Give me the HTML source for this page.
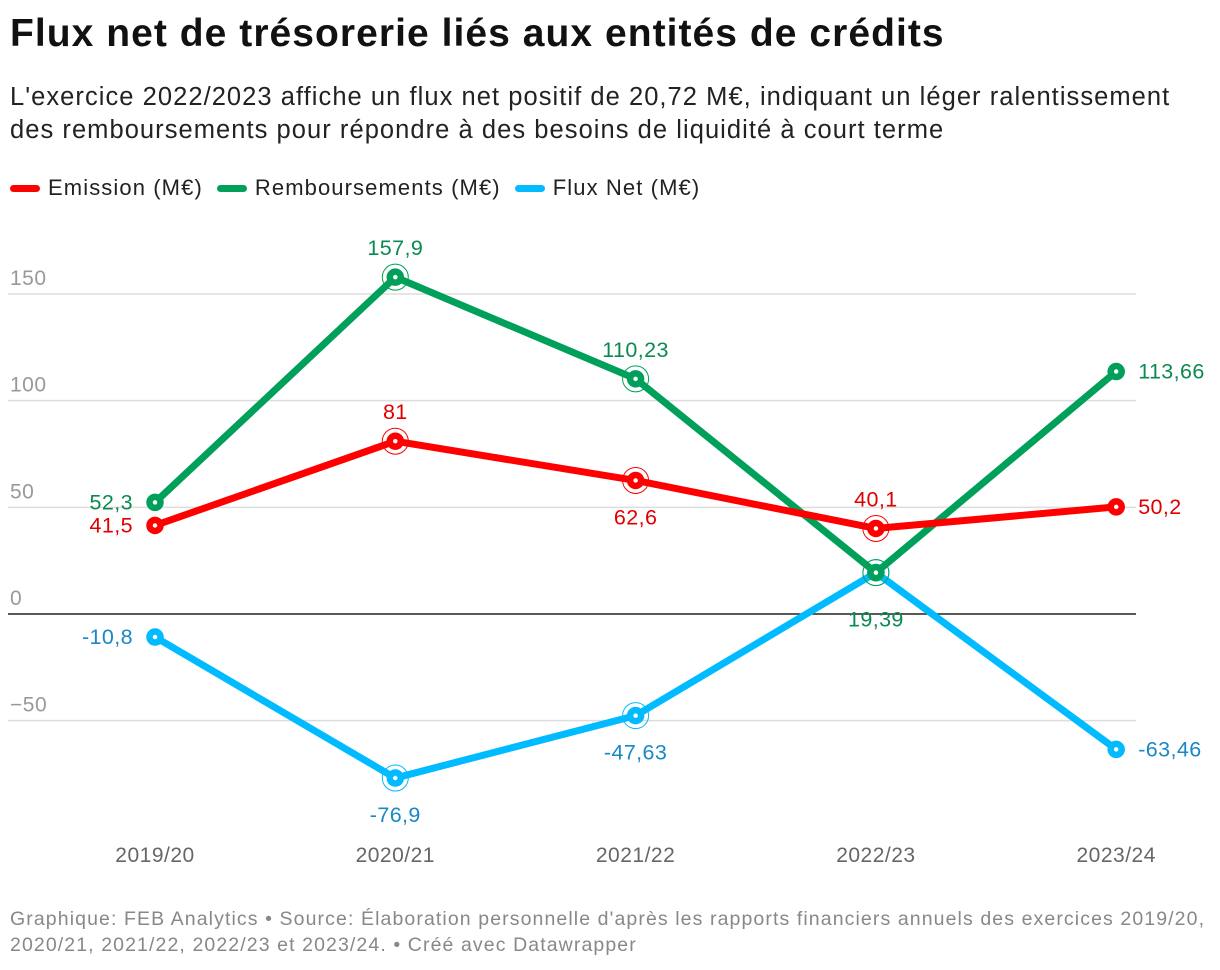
<!DOCTYPE html>
<html><head><meta charset="utf-8"><style>
body{margin:0;background:#fff;font-family:"Liberation Sans",sans-serif;}
#wrap{position:relative;width:1220px;height:970px;overflow:hidden}
h1{position:absolute;left:10px;top:12px;margin:0;font-size:39px;font-weight:bold;color:#111;letter-spacing:1.05px;white-space:nowrap}
.sub{position:absolute;left:10px;top:81px;font-size:25.5px;line-height:33px;color:#222;letter-spacing:1.05px;white-space:nowrap}
.legend{position:absolute;left:10px;top:175px;font-size:22px;color:#222;display:flex;gap:14px;letter-spacing:1.1px;white-space:nowrap}
.li{display:flex;align-items:center}
.sw{display:inline-block;width:30px;height:7px;border-radius:4px;margin-right:8px}
.foot{position:absolute;left:10px;top:906px;font-size:19.5px;line-height:26px;color:#888;letter-spacing:1.1px;white-space:nowrap}
</style></head><body><div id="wrap">
<h1>Flux net de trésorerie liés aux entités de crédits</h1>
<div class="sub">L'exercice 2022/2023 affiche un flux net positif de 20,72 M€, indiquant un léger ralentissement<br>des remboursements pour répondre à des besoins de liquidité à court terme</div>
<div class="legend">
<span class="li"><span class="sw" style="background:#f00"></span>Emission (M€)</span>
<span class="li"><span class="sw" style="background:#00a05a"></span>Remboursements (M€)</span>
<span class="li"><span class="sw" style="background:#00bbff"></span>Flux Net (M€)</span>
</div>
<svg id="plot" width="1220" height="970" style="position:absolute;left:0;top:0"></svg>
<div class="foot">Graphique: FEB Analytics • Source: Élaboration personnelle d'après les rapports financiers annuels des exercices 2019/20,<br>2020/21, 2021/22, 2022/23 et 2023/24. • Créé avec Datawrapper</div>
</div>
<script>
const categories=["2019/20","2020/21","2021/22","2022/23","2023/24"];
const emission=[41.5,81,62.6,40.1,50.2];
const remboursements=[52.3,157.9,110.23,19.39,113.66];
const fluxNet=[-10.8,-76.9,-47.63,19.39,-63.46];
const yTicks=[150,100,50,0,-50];
const emissionLabels=["41,5","81","62,6","40,1","50,2"];
const rembLabels=["52,3","157,9","110,23","19,39","113,66"];
const fluxLabels=["-10,8","-76,9","-47,63","","-63,46"];
const NS="http://www.w3.org/2000/svg";
const svg=document.getElementById('plot');
const x=i=>155+i*240.3;
const y=v=>614-v*2.1333;
function el(t,a){const e=document.createElementNS(NS,t);for(const k in a)e.setAttribute(k,a[k]);svg.appendChild(e);return e;}
yTicks.forEach(t=>{
 const l=el('line',{x1:8,x2:1136,y1:y(t),y2:y(t),stroke:t===0?'#222':'#ddd','stroke-width':1.5});
 
 
 const tx=el('text',{x:10,y:y(t)-9,fill:'#999','font-size':21,'letter-spacing':0.5});
 tx.textContent=t<0?'−'+(-t):t;
 
 
});
categories.forEach((c,i)=>{
 const tx=el('text',{x:x(i),y:862,fill:'#666','font-size':21,'text-anchor':'middle','letter-spacing':0.5});
 tx.textContent=c;
 
 
});
function series(data,labels,color,tcol,name,pos){
 const p=el('polyline',{points:data.map((v,i)=>x(i)+','+y(v)).join(' '),fill:'none',stroke:color,'stroke-width':7,'stroke-linejoin':'round'});
 
 
 data.forEach((v,i)=>{
  if(i>0&&i<data.length-1){const r=el('circle',{cx:x(i),cy:y(v),r:13,fill:'none',stroke:color,'stroke-width':1});
   
   }
  const c=el('circle',{cx:x(i),cy:y(v),r:5.5,fill:'#fff',stroke:color,'stroke-width':6.5});
  
  
  if(!labels[i])return;
  const ps=pos[i];let tx;
  if(ps==='l')tx=el('text',{x:x(i)-22,y:y(v)+7,'text-anchor':'end'});
  else if(ps==='r')tx=el('text',{x:x(i)+22,y:y(v)+7,'text-anchor':'start'});
  else if(ps==='a')tx=el('text',{x:x(i),y:y(v)-22,'text-anchor':'middle'});
  else if(ps==='bb')tx=el('text',{x:x(i),y:y(v)+54,'text-anchor':'middle'});
  else tx=el('text',{x:x(i),y:y(v)+44,'text-anchor':'middle'});
  tx.setAttribute('fill',tcol);tx.setAttribute('font-size',21.5);tx.setAttribute('letter-spacing',0.4);
  tx.textContent=labels[i];
  
  
 });
}
series(fluxNet,fluxLabels,'#00bbff','#1a88c4','flux-net',['l','b','b','b','r']);
series(remboursements,rembLabels,'#00a05a','#0a8a50','remboursements',['l','a','a','bb','r']);
series(emission,emissionLabels,'#ff0000','#e00000','emission',['l','a','b','a','r']);
</script></body></html>
